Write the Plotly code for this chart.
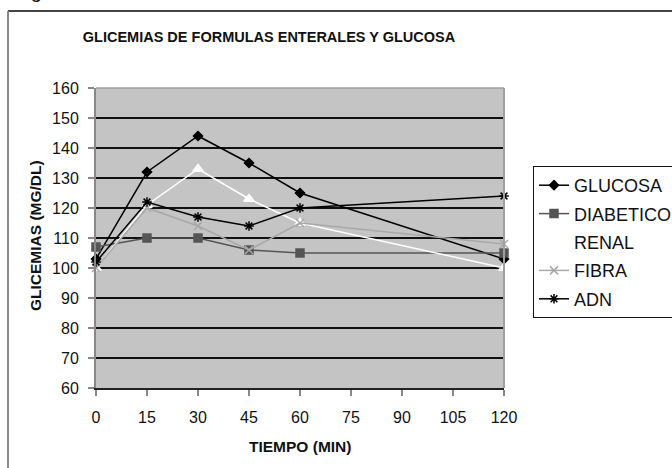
import plotly.graph_objects as go

tiempo = [0, 15, 30, 45, 60, 120]
glucosa = [103, 132, 144, 135, 125, 103]
diabetico = [107, 110, 110, 106, 105, 105]
renal = [100, 121, 133, 123, 115, 100]
fibra = [100, 120, 114, 106, 115, 108]
adn = [102, 122, 117, 114, 120, 124]

x_ticks = [0, 15, 30, 45, 60, 75, 90, 105, 120]
y_ticks = [60, 70, 80, 90, 100, 110, 120, 130, 140, 150, 160]

FONT = "Liberation Sans, Arial, sans-serif"

series = [
    ("GLUCOSA", glucosa, "#000000", "diamond", 7, 1.5),
    ("DIABETICO", diabetico, "#555555", "square", 8, 1.5),
    ("RENAL", renal, "#ffffff", "triangle-up", 9, 1.5),
    ("FIBRA", fibra, "#a8a8a8", "x-thin-open", 8, 1.5),
    ("ADN", adn, "#000000", "asterisk-open", 8, 1.5),
]

fig = go.Figure()
for i, (name, vals, color, sym, size, lw) in enumerate(series):
    fig.add_trace(go.Scatter(
        x=tiempo, y=vals, name=name, mode="lines+markers",
        line=dict(color=color, width=lw),
        marker=dict(symbol=sym, size=size, color=color,
                    line=dict(color=color, width=1.5)),
        cliponaxis=False, legendgroup=f"g{i}",
    ))

W, H = 672, 468
L, R, T, B = 96, 504, 88, 388


def px(xp):
    return (xp - L) / (R - L)


def py(yp):
    return (B - yp) / (B - T)


fig.update_layout(
    width=W, height=H,
    margin=dict(l=L, r=W - R, t=T, b=H - B, autoexpand=False),
    paper_bgcolor="white", plot_bgcolor="#c4c4c4",
    font=dict(family=FONT, color="#111111", size=16),
    title=dict(text="<b>GLICEMIAS DE FORMULAS ENTERALES Y GLUCOSA</b>",
               x=269 / W, xref="container", xanchor="center",
               y=1 - 36.5 / H, yref="container", yanchor="middle",
               font=dict(size=14.5, family=FONT, color="#111111")),
    xaxis=dict(range=[0, 120], tickvals=x_ticks, ticktext=[str(v) for v in x_ticks],
               showgrid=False, zeroline=False, showline=True, linecolor="#222222",
               linewidth=1.5, ticks="outside", ticklen=6, tickwidth=2,
               tickcolor="#888888", ticklabelstandoff=8,
               tickfont=dict(size=16), fixedrange=True),
    yaxis=dict(range=[60, 160], tickvals=y_ticks, ticktext=[str(v) for v in y_ticks],
               showgrid=True, gridcolor="#111111", gridwidth=1.5, zeroline=False,
               showline=True, linecolor="#888888", linewidth=2,
               ticks="outside", ticklen=6, tickwidth=2, tickcolor="#888888",
               ticklabelstandoff=6, tickfont=dict(size=16), fixedrange=True),
    legend=dict(x=px(533), xanchor="left", y=py(166), yanchor="top",
                bgcolor="white", bordercolor="#111111", borderwidth=1,
                font=dict(size=18, family=FONT, color="#111111"),
                traceorder="grouped", tracegroupgap=2, itemwidth=30),
    showlegend=True,
)

# axis titles
fig.add_annotation(text="<b>TIEMPO (MIN)</b>", xref="paper", yref="paper",
                   x=px(300), y=py(446), xanchor="center", yanchor="middle",
                   showarrow=False, font=dict(size=15.5, family=FONT, color="#111111"))
fig.add_annotation(text="<b>GLICEMIAS (MG/DL)</b>", xref="paper", yref="paper",
                   x=px(35), y=py(236), xanchor="center", yanchor="middle",
                   textangle=-90, showarrow=False,
                   font=dict(size=15.5, family=FONT, color="#111111"))
fig.add_annotation(text="Figura 1", xref="paper", yref="paper",
                   x=px(12), y=py(-9), xanchor="left", yanchor="middle",
                   showarrow=False, font=dict(size=20, family=FONT, color="#111111"))

# plot top/right border
fig.add_shape(type="line", xref="paper", yref="paper", x0=0, x1=1, y0=1, y1=1,
              line=dict(color="#a0a0a0", width=1.5))
fig.add_shape(type="line", xref="paper", yref="paper", x0=1, x1=1, y0=0, y1=1,
              line=dict(color="#a0a0a0", width=2))
# outer frame (partially cropped)
fig.add_shape(type="line", xref="paper", yref="paper", x0=px(8), x1=px(700),
              y0=py(11), y1=py(11), line=dict(color="#444444", width=2))
fig.add_shape(type="line", xref="paper", yref="paper", x0=px(8), x1=px(8),
              y0=py(11), y1=py(500), line=dict(color="#888888", width=2))

fig.write_html("out.html", config={"displayModeBar": False},
               post_script="document.body.style.margin='0px';document.body.style.overflow='hidden';")
